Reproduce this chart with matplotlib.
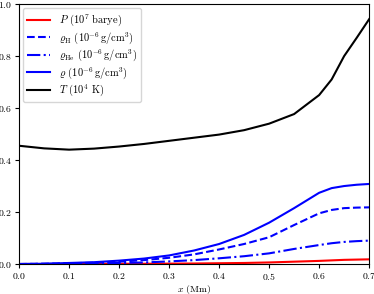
import matplotlib
matplotlib.use('Agg')
import matplotlib.pyplot as plt

plt.rcParams['font.family'] = 'serif'
plt.rcParams['font.serif'] = ['cmr10']
plt.rcParams['mathtext.fontset'] = 'cm'
plt.rcParams['axes.formatter.use_mathtext'] = True

# values
x = [0.0, 0.05, 0.1, 0.15, 0.2, 0.25, 0.3, 0.35, 0.4, 0.45, 0.5, 0.55, 0.6, 0.625, 0.65, 0.675, 0.7]
P = [0.0, 0.0, 0.0, 0.0005, 0.001, 0.001, 0.0015, 0.002, 0.003, 0.004, 0.006, 0.009, 0.012, 0.014, 0.016, 0.017, 0.018]
rho_H = [0.0, 0.001, 0.003, 0.005, 0.009, 0.015, 0.024, 0.037, 0.056, 0.077, 0.103, 0.150, 0.195, 0.208, 0.215, 0.217, 0.218]
rho_He = [0.0, 0.0005, 0.001, 0.002, 0.004, 0.006, 0.010, 0.015, 0.022, 0.030, 0.041, 0.058, 0.073, 0.080, 0.085, 0.088, 0.090]
rho = [0.0, 0.001, 0.004, 0.007, 0.013, 0.021, 0.033, 0.052, 0.077, 0.112, 0.159, 0.215, 0.274, 0.292, 0.300, 0.305, 0.308]
T = [0.455, 0.445, 0.440, 0.444, 0.452, 0.462, 0.474, 0.486, 0.498, 0.515, 0.540, 0.577, 0.650, 0.710, 0.800, 0.870, 0.942]

fig = plt.figure(figsize=(3.74, 2.94), dpi=100)
ax = fig.add_axes([0.051, 0.102, 0.936, 0.884])

ax.plot(x, P, color='red', label=r'$P$ ($10^7$ barye)')
ax.plot(x, rho_H, color='blue', ls='--', label=r'$\varrho_{\rm H}$ ($10^{-6}\,{\rm g/cm^3}$)')
ax.plot(x, rho_He, color='blue', ls='-.', label=r'$\varrho_{\rm He}$ ($10^{-6}\,{\rm g/cm^3}$)')
ax.plot(x, rho, color='blue', label=r'$\varrho$ ($10^{-6}\,{\rm g/cm^3}$)')
ax.plot(x, T, color='black', label=r'$T$ ($10^4$ K)')

ax.set_xlim(0, 0.7)
ax.set_ylim(0, 1.0)
ax.set_xticks([0.0, 0.1, 0.2, 0.3, 0.4, 0.5, 0.6, 0.7])
ax.set_yticks([0.0, 0.2, 0.4, 0.6, 0.8, 1.0])
ax.tick_params(labelsize=7, length=3, pad=2)
ax.set_xlabel(r'$x$ (Mm)', fontsize=7, labelpad=1)
ax.legend(loc='upper left', fontsize=7.5, handlelength=2.2, labelspacing=0.15,
          borderaxespad=0.4, borderpad=0.4)

fig.savefig('out.png', dpi=100)
